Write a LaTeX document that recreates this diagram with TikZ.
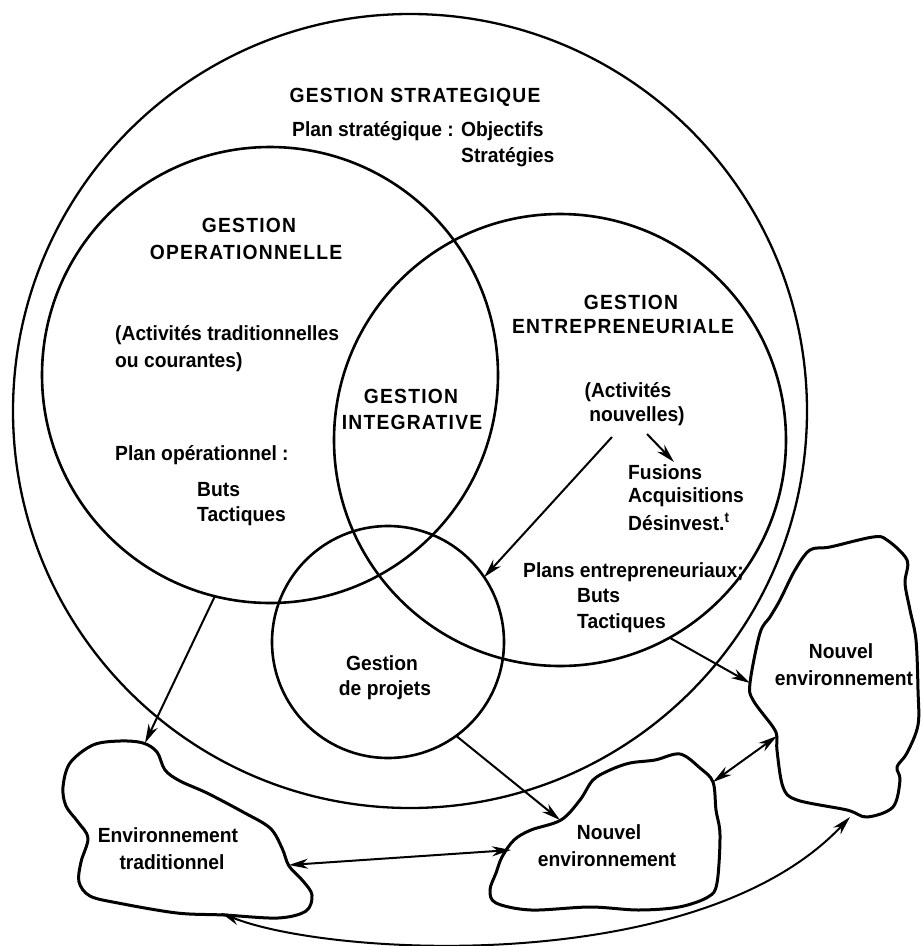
\documentclass[tikz,border=0pt]{standalone}
\usepackage{fontspec}
\setmainfont{Liberation Sans}[FakeStretch=0.94]
\newfontfamily\capsfont{Liberation Sans}[FakeStretch=0.94, LetterSpace=6]
\usetikzlibrary{arrows.meta}
\begin{document}
\begin{tikzpicture}[x=1pt,y=-1pt,
  circ/.style={circle, draw, line width=2.6pt, inner sep=0pt, outer sep=0pt},
  blob/.style={line width=3pt, line join=round},
  arr/.style={line width=2pt, -{Stealth[length=19pt,width=10pt,inset=6pt]}},
  darr/.style={line width=2pt, {Stealth[length=19pt,width=10pt,inset=6pt]}-{Stealth[length=19pt,width=10pt,inset=6pt]}},
  lbl/.style={inner sep=0pt, font=\bfseries\fontsize{20.5}{24}\selectfont},
  capslbl/.style={inner sep=0pt, font=\capsfont\bfseries\fontsize{20.5}{24}\selectfont},
  lw/.style={lbl, anchor=west}]
\useasboundingbox (0,0) rectangle (921,946);
% circles
\node[circ, line width=2.3pt, minimum size=794pt] (big) at (410,411) {};
\node[circ, minimum size=456pt] (op) at (270,375) {};
\node[circ, minimum size=452pt] (ent) at (560,440) {};
\node[circ, minimum size=232pt] (proj) at (388,642) {};
% blobs
\draw[blob] plot[smooth cycle, tension=0.55] coordinates {
 (143,743) (157,752) (165,770) (180,781) (207,793) (243,812) (270,828) (282,848)
 (289,866) (303,881) (312,895) (306,911) (278,918) (224,915) (177,913) (118,903)
 (90,896) (79,882) (81,862) (88,838) (78,822) (66,806) (63,787) (70,763) (93,745) (120,741)};
\draw[blob] plot[smooth cycle, tension=0.55] coordinates {
 (561,820) (580,800) (593,780) (610,770) (630,763) (655,760) (680,754) (700,768)
 (713,782) (716,810) (720,835) (717,883) (708,897) (679,907) (638,910) (590,907)
 (531,910) (496,903) (490,890) (496,873) (502,857) (514,840) (531,830)};
\draw[blob] plot[smooth cycle, tension=0.55] coordinates {
 (810,550) (830,547) (873,537) (887,540) (907,560) (905,583) (910,610) (916,640)
 (918,690) (918,725) (907,753) (897,767) (900,780) (893,807) (867,817) (847,810)
 (797,800) (783,787) (777,750) (777,737) (773,727) (753,700) (750,683) (760,633)
 (770,617) (780,600) (795,570)};
% connector end points
\coordinate (etTop) at (145,743);
\coordinate (etR) at (289,865);
\coordinate (etB) at (221,913);
\coordinate (nbTop) at (560,820);
\coordinate (nbL) at (511,850);
\coordinate (nbR) at (713,782);
\coordinate (nrL) at (750,683);
\coordinate (nrL2) at (777,736);
\coordinate (nrB) at (850,817);
\coordinate (anS) at (612,437);
\coordinate (anS2) at (647,434);
\coordinate (fusN) at (674,462);
% texts
\node[capslbl] (strat) at (415,97) {GESTION STRATEGIQUE};
\node[lw] (plan1) at (292,131) {Plan stratégique : Objectifs};
\node[lw] (plan2) at (461,157) {Stratégies};
\node[capslbl] (op1) at (249,225) {GESTION};
\node[capslbl] (op2) at (246,252) {OPERATIONNELLE};
\node[lw] (act1) at (115,335) {(Activités traditionnelles};
\node[lw] (act2) at (115,362) {ou courantes)};
\node[capslbl] (int1) at (411,396) {GESTION};
\node[capslbl] (int2) at (412,422) {INTEGRATIVE};
\node[lw] (pop) at (115,455) {Plan opérationnel :};
\node[lw] (buts1) at (197,490) {Buts};
\node[lw] (tac1) at (197,516) {Tactiques};
\node[capslbl] (ent1) at (631,302) {GESTION};
\node[capslbl] (ent2) at (623,327) {ENTREPRENEURIALE};
\node[lbl] (an1) at (628,392) {(Activités};
\node[lbl] (an2) at (637,416) {nouvelles)};
\node[lw] (fus) at (628,472) {Fusions};
\node[lw] (acq) at (628,497) {Acquisitions};
\node[lw] (des) at (628,522) {Désinvest.\textsuperscript{t}};
\node[lw] (pe) at (523,572) {Plans entrepreneuriaux;};
\node[lw] (buts2) at (577,596) {Buts};
\node[lw] (tac2) at (577,623) {Tactiques};
\node[lbl] (gp1) at (382,663) {Gestion};
\node[lbl] (gp2) at (385,690) {de projets};
\node[lbl] (et1) at (168,835) {Environnement};
\node[lbl] (et2) at (172,862) {traditionnel};
\node[lbl] (nb1) at (609,832) {Nouvel};
\node[lbl] (nb2) at (607,859) {environnement};
\node[lbl] (nr1) at (841,651) {Nouvel};
\node[lbl] (nr2) at (844,678) {environnement};
% connectors
\draw[arr] (op.256) -- (etTop);
\draw[arr] (anS) -- (proj.34);
\draw[arr] (anS2) -- (fusN);
\draw[arr] (proj.-54) -- (nbTop);
\draw[arr] (ent.-61) -- (nrL);
\draw[darr] (nbR) -- (nrL2);
\draw[darr] (etR) -- (nbL);
\draw[darr] (etB) .. controls (330,957) and (700,977) .. (nrB);
\end{tikzpicture}
\end{document}
